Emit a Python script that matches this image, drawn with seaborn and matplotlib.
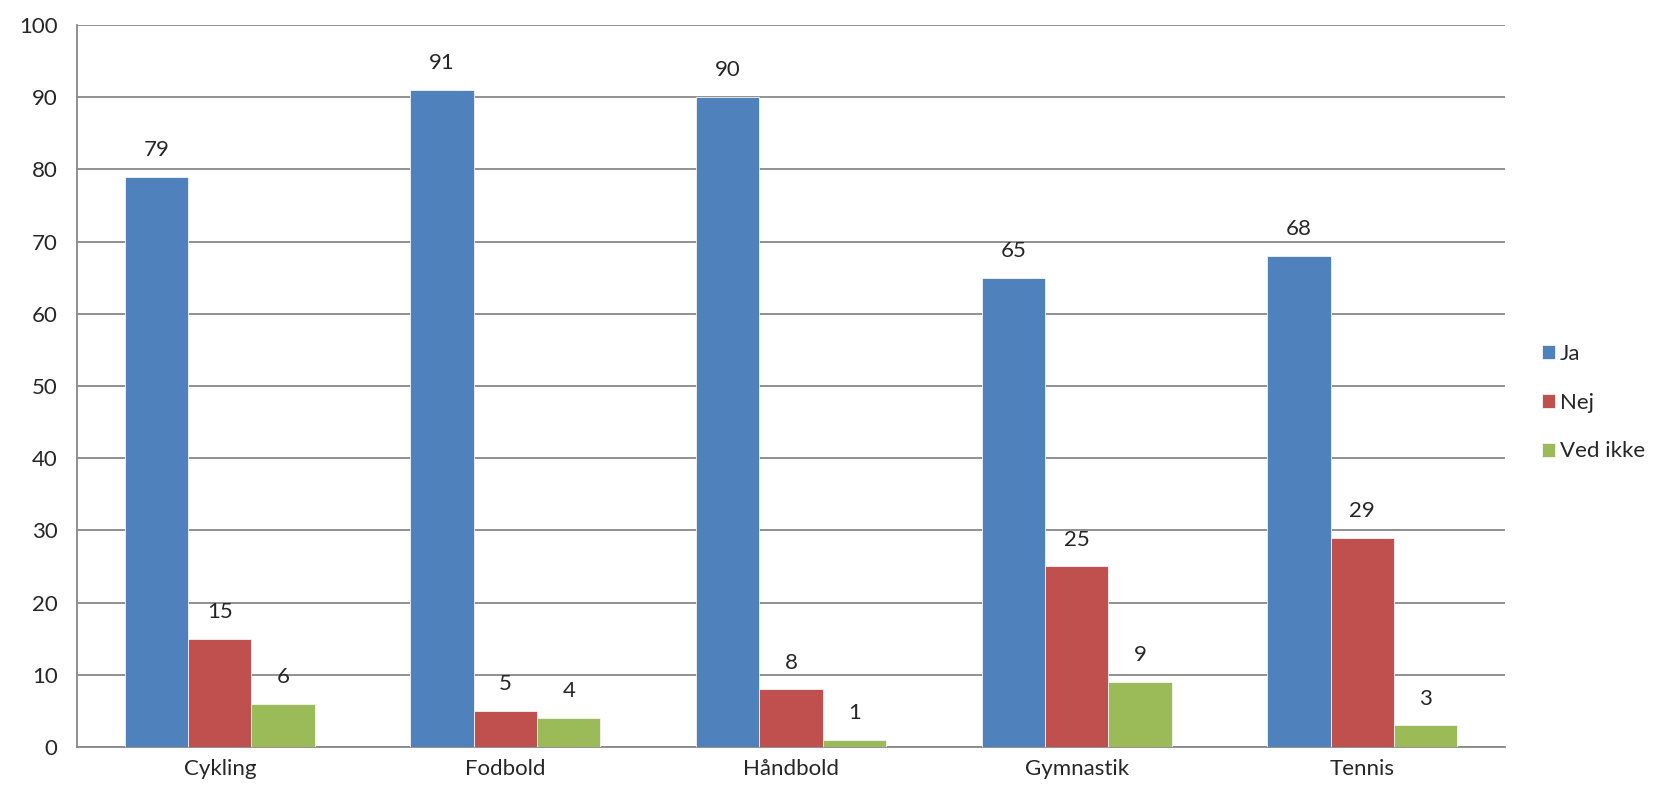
import pandas as pd
import matplotlib.pyplot as plt
import seaborn as sb

# data
sports = ["Cykling", "Fodbold", "Håndbold", "Gymnastik", "Tennis"]
answers = ["Ja", "Nej", "Ved ikke"]
ja = [79, 91, 90, 65, 68]
nej = [15, 5, 8, 25, 29]
ved_ikke = [6, 4, 1, 9, 3]

colors = ["#4F81BD", "#C0504D", "#9BBB59"]

def main():
    rows = []
    for ans, vals in zip(answers, [ja, nej, ved_ikke]):
        for s, v in zip(sports, vals):
            rows.append({"sport": s, "svar": ans, "antal": v})
    df = pd.DataFrame(rows)

    sb.set_style("white")
    plt.rcParams["font.family"] = ["Lato", "DejaVu Sans"]

    fig, ax = plt.subplots(figsize=(16.63, 7.95), dpi=100)
    fig.subplots_adjust(left=0.0463, right=0.905, top=0.9686, bottom=0.0604)

    sb.barplot(data=df, x="sport", y="antal", hue="svar", palette=colors,
               width=0.665, gap=0, saturation=1, linewidth=0.6, edgecolor="#f4f4f4",
               ax=ax, zorder=3)

    for cont in ax.containers:
        ax.bar_label(cont, padding=12, fontsize=16)

    ax.set_ylim(0, 100)
    ax.set_xlim(-0.5, len(sports) - 0.5)
    ax.set_yticks(range(0, 101, 10))
    ax.yaxis.grid(True, color="#888888", linewidth=1.3, zorder=0)
    ax.set_axisbelow(True)

    # x ticks at category boundaries, labels centred
    ax.set_xticks([i - 0.5 for i in range(len(sports) + 1)], minor=False)
    ax.set_xticklabels([""] * (len(sports) + 1))
    ax.set_xticks(range(len(sports)), minor=True)
    ax.set_xticklabels(sports, minor=True)
    ax.tick_params(axis="x", which="minor", length=0, labelsize=16, pad=9)
    ax.tick_params(axis="x", which="major", length=8, width=1.3, color="#888888", direction="out")
    ax.tick_params(axis="y", length=8, width=1.3, color="#888888", labelsize=16, pad=6, direction="out")

    for side in ["top", "right"]:
        ax.spines[side].set_visible(False)
    for side in ["left", "bottom"]:
        ax.spines[side].set_color("#888888")
        ax.spines[side].set_linewidth(1.3)

    ax.set_xlabel("")
    ax.set_ylabel("")

    ax.legend(title=None, frameon=False, loc="center left", bbox_to_anchor=(1.012, 0.477),
              fontsize=16, handlelength=0.6, handleheight=0.6, handletextpad=0.2,
              labelspacing=1.3)

    plt.savefig("out.png", dpi=100)

if __name__ == "__main__":
    main()
